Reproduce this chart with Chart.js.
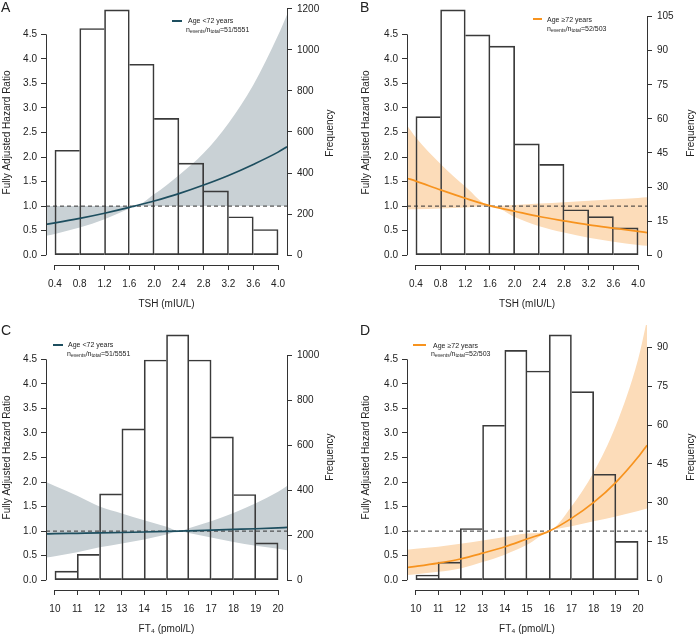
<!DOCTYPE html>
<html>
<head>
<meta charset="utf-8">
<script src="https://cdn.jsdelivr.net/npm/chart.js@4.4.0/dist/chart.umd.min.js"></script>
<style>
    body { margin: 0; background: #fff; overflow: hidden; }
    #wrap { position: relative; width: 696px; height: 635px; overflow: hidden;
            font-family: 'Liberation Sans', Arial, sans-serif; color: #222; }
    canvas { position: absolute; }
    .letter { position: absolute; font-size: 14px; line-height: 14px; }
    .ytitle { position: absolute; font-size: 10px; line-height: 12px; white-space: nowrap;
              transform: translate(-50%, -50%) rotate(-90deg); }
    .leg { position: absolute; font-size: 7px; line-height: 7px; white-space: nowrap; }
    .leg sub { font-size: 5px; line-height: 5px; vertical-align: -1px; }
    .legline { position: absolute; height: 2px; }
</style>
</head>
<body>
<div id="wrap">
    <canvas id="chartA" width="348" height="325" style="left:0;top:-10px"></canvas>
    <canvas id="chartB" width="348" height="325" style="left:348px;top:-10px"></canvas>
    <canvas id="chartC" width="348" height="325" style="left:0;top:315px"></canvas>
    <canvas id="chartD" width="348" height="325" style="left:348px;top:315px"></canvas>

    <div class="letter" style="left:1px;top:0">A</div>
    <div class="letter" style="left:360px;top:0">B</div>
    <div class="letter" style="left:1px;top:323px">C</div>
    <div class="letter" style="left:360px;top:323px">D</div>

    <div class="ytitle" style="left:330px;top:133px">Frequency</div>
    <div class="ytitle" style="left:691px;top:133px">Frequency</div>
    <div class="ytitle" style="left:330px;top:457px">Frequency</div>
    <div class="ytitle" style="left:691px;top:457px">Frequency</div>

    <div class="legline" style="left:172px;top:20px;width:10px;background:#1d4e5f"></div>
    <div class="leg" style="left:188px;top:17px">Age &lt;72 years</div>
    <div class="leg" style="left:186px;top:25.5px">n<sub>events</sub>/n<sub>total</sub>=51/5551</div>

    <div class="legline" style="left:533px;top:18px;width:9px;background:#f7931e"></div>
    <div class="leg" style="left:547px;top:15.5px">Age ≥72 years</div>
    <div class="leg" style="left:547px;top:24.5px">n<sub>events</sub>/n<sub>total</sub>=52/503</div>

    <div class="legline" style="left:53px;top:343.5px;width:10px;background:#1d4e5f"></div>
    <div class="leg" style="left:68px;top:340.5px">Age &lt;72 years</div>
    <div class="leg" style="left:67px;top:349.5px">n<sub>events</sub>/n<sub>total</sub>=51/5551</div>

    <div class="legline" style="left:413px;top:344px;width:13px;background:#f7931e"></div>
    <div class="leg" style="left:433px;top:341.5px">Age ≥72 years</div>
    <div class="leg" style="left:431px;top:349.5px">n<sub>events</sub>/n<sub>total</sub>=52/503</div>
</div>

<script>
// Подписи делений осей
const tshTicks = [0.4, 0.8, 1.2, 1.6, 2.0, 2.4, 2.8, 3.2, 3.6, 4.0];
const ft4Ticks = [10, 11, 12, 13, 14, 15, 16, 17, 18, 19, 20];
const hrTicks = [0, 0.5, 1.0, 1.5, 2.0, 2.5, 3.0, 3.5, 4.0, 4.5];
const freqTicksA = [0, 200, 400, 600, 800, 1000, 1200];
const freqTicksB = [0, 15, 30, 45, 60, 75, 90, 105];
const freqTicksC = [0, 200, 400, 600, 800, 1000];
const freqTicksD = [0, 15, 30, 45, 60, 75, 90];
const refHR = 1;

// Гистограммы (центры интервалов и частоты)
const tshBins = [0.6, 1.0, 1.4, 1.8, 2.2, 2.6, 3.0, 3.4, 3.8];
const ft4Bins = [10.5, 11.5, 12.5, 13.5, 14.5, 15.5, 16.5, 17.5, 18.5, 19.5];
const freqA = [511, 1104, 1195, 930, 666, 448, 313, 187, 125];
const freqB = [61, 108, 97, 92, 49, 40, 20, 17, 12];
const freqC = [40, 115, 384, 673, 979, 1091, 979, 637, 381, 166];
const freqD = [2, 7, 20, 60, 89, 81, 95, 73, 41, 15];

// Кривые отношения рисков с доверительными интервалами
const xA = [0.256, 0.4, 0.8, 1.2, 1.6, 1.68, 2.0, 2.4, 2.8, 3.2, 3.6, 4.0, 4.144];
const hrA = [0.628, 0.658, 0.750, 0.855, 0.974, 1.0, 1.105, 1.255, 1.43, 1.625, 1.85, 2.10, 2.21];
const loA = [0.394, 0.433, 0.562, 0.731, 0.949, 1.0, 1.0, 1.0, 1.0, 1.0, 1.0, 1.0, 1.0];
const hiA = [1.0, 1.0, 1.0, 1.0, 1.0, 1.0, 1.24, 1.63, 2.08, 2.69, 3.47, 4.48, 4.9];

const xB = [0.256, 0.4, 0.8, 1.2, 1.62, 2.0, 2.4, 2.8, 3.2, 3.6, 4.0, 4.144];
const hrB = [1.568, 1.51, 1.33, 1.16, 1.0, 0.896, 0.788, 0.70, 0.618, 0.55, 0.485, 0.46];
const loB = [0.93, 0.935, 0.95, 0.972, 1.0, 0.78, 0.59, 0.46, 0.355, 0.275, 0.21, 0.19];
const hiB = [2.65, 2.40, 1.86, 1.40, 1.0, 1.025, 1.052, 1.08, 1.108, 1.138, 1.166, 1.18];

const xC = [9.6, 10, 11, 12, 13, 14, 15, 15.58, 16, 17, 18, 19, 20, 20.4];
const hrC = [0.944, 0.947, 0.955, 0.963, 0.972, 0.982, 0.993, 1.0, 1.006, 1.02, 1.034, 1.048, 1.066, 1.075];
const loC = [0.46, 0.49, 0.57, 0.67, 0.75, 0.83, 0.93, 1.0, 0.96, 0.87, 0.78, 0.70, 0.64, 0.61];
const hiC = [2.0, 1.92, 1.72, 1.50, 1.36, 1.22, 1.09, 1.0, 1.06, 1.2, 1.37, 1.57, 1.8, 1.92];

const xD = [9.6, 10, 11, 12, 13, 14, 15, 16, 17, 18, 19, 20, 20.4];
const hrD = [0.258, 0.281, 0.347, 0.432, 0.55, 0.68, 0.84, 1.0, 1.259, 1.584, 1.994, 2.509, 2.75];
const loD = [0.105, 0.12, 0.17, 0.24, 0.37, 0.52, 0.72, 1.0, 1.1, 1.2, 1.3, 1.41, 1.46];
const hiD = [0.62, 0.64, 0.68, 0.74, 0.81, 0.88, 0.95, 1.0, 1.5, 2.2, 3.15, 4.5, 5.3];

const FONT = { family: "'Liberation Sans', Arial, sans-serif", size: 10 };
const INK = '#222';

Chart.defaults.font.family = FONT.family;
Chart.defaults.font.size = 10;
Chart.defaults.color = INK;

// Линии осей в стиле R: только от первого до последнего деления
const axisLines = {
    id: 'axisLines',
    afterDraw(chart) {
        const { ctx, chartArea: a, scales } = chart;
        const seg = (x1, y1, x2, y2) => {
            ctx.beginPath();
            ctx.moveTo(x1, y1);
            ctx.lineTo(x2, y2);
            ctx.stroke();
        };
        const ends = (s) => [s.getPixelForValue(s.ticks[0].value), s.getPixelForValue(s.ticks[s.ticks.length - 1].value)];
        ctx.save();
        ctx.strokeStyle = '#333';
        ctx.lineWidth = 1;
        const [x1, x2] = ends(scales.x);
        seg(x1, Math.round(a.bottom) + 0.5, x2, Math.round(a.bottom) + 0.5);
        const [y1, y2] = ends(scales.y);
        seg(Math.round(a.left) + 0.5, y1, Math.round(a.left) + 0.5, y2);
        const [r1, r2] = ends(scales.y2);
        seg(Math.round(a.right) + 0.5, r1, Math.round(a.right) + 0.5, r2);
        ctx.restore();
    }
};

function points(xs, ys) {
    return xs.map((x, i) => ({ x, y: ys[i] }));
}

function setTicks(list) {
    return (s) => { s.ticks = list.map(v => ({ value: v })); };
}

const tickGrid = { drawOnChartArea: false, drawTicks: true, tickLength: 5, color: '#333', lineWidth: 1, offset: false };

// Построение одной панели
function renderPanel(id, p) {
    const span = p.xTicks[p.xTicks.length - 1] - p.xTicks[0];
    const xMin = p.xTicks[0] - 0.04 * span;
    const xMax = p.xTicks[p.xTicks.length - 1] + 0.04 * span;
    const fMax = Math.max(...p.freq);

    // рамки столбцов: общую сторону рисует более высокий столбец
    const barBorder = (c) => {
        const i = c.dataIndex;
        const f = p.freq;
        return {
            top: 1,
            bottom: 1,
            left: (i === 0 || f[i - 1] < f[i]) ? 1 : 0,
            right: (i === f.length - 1 || f[i + 1] <= f[i]) ? 1 : 0,
        };
    };

    new Chart(document.getElementById(id), {
        type: 'line',
        data: {
            datasets: [
                {
                    label: 'upper',
                    data: points(p.x, p.hi),
                    fill: '+1',
                    backgroundColor: p.band,
                    borderColor: 'rgba(0,0,0,0)',
                    borderWidth: 0,
                    pointRadius: 0,
                    cubicInterpolationMode: 'monotone',
                    order: 5,
                },
                {
                    label: 'lower',
                    data: points(p.x, p.lo),
                    fill: false,
                    borderColor: 'rgba(0,0,0,0)',
                    borderWidth: 0,
                    pointRadius: 0,
                    cubicInterpolationMode: 'monotone',
                    order: 5,
                },
                {
                    type: 'bar',
                    label: 'Frequency',
                    data: points(p.bins, p.freq),
                    yAxisID: 'y2',
                    backgroundColor: 'rgba(255,255,255,0)',
                    borderColor: '#3a3a3a',
                    borderWidth: barBorder,
                    borderSkipped: false,
                    barPercentage: 1,
                    categoryPercentage: 1,
                    order: 4,
                },
                {
                    label: 'ref',
                    data: [{ x: xMin, y: refHR }, { x: xMax, y: refHR }],
                    borderColor: '#333',
                    borderWidth: 1,
                    borderDash: [4, 3],
                    pointRadius: 0,
                    fill: false,
                    order: 2,
                },
                {
                    label: 'HR',
                    data: points(p.x, p.hr),
                    borderColor: p.line,
                    borderWidth: 1.7,
                    pointRadius: 0,
                    fill: false,
                    cubicInterpolationMode: 'monotone',
                    order: 1,
                },
            ],
        },
        options: {
            responsive: false,
            animation: false,
            events: [],
            layout: { padding: { top: 10, left: 0, right: 0, bottom: 0 } },
            plugins: { legend: { display: false }, tooltip: { enabled: false } },
            scales: {
                x: {
                    type: 'linear',
                    min: xMin,
                    max: xMax,
                    offset: false,
                    afterBuildTicks: setTicks(p.xTicks),
                    afterFit: (s) => { s.height = 50; s.paddingLeft = 0; s.paddingRight = 0; },
                    grid: tickGrid,
                    border: { display: false },
                    ticks: { padding: 8, autoSkip: false, maxRotation: 0, color: INK, font: FONT, callback: p.xFmt },
                    title: { display: true, text: p.xTitle, color: INK, font: FONT, padding: { top: 0, bottom: 5 } },
                },
                y: {
                    type: 'linear',
                    position: 'left',
                    min: -0.2,
                    max: 5.2,
                    afterBuildTicks: setTicks(hrTicks),
                    afterFit: (s) => { s.width = p.leftW; s.paddingTop = 0; s.paddingBottom = 0; },
                    grid: tickGrid,
                    border: { display: false },
                    ticks: { padding: 4, autoSkip: false, color: INK, font: FONT, callback: v => v.toFixed(1) },
                    title: { display: true, text: 'Fully Adjusted Hazard Ratio', color: INK, font: FONT, padding: { top: p.yTitlePad, bottom: 0 } },
                },
                y2: {
                    type: 'linear',
                    position: 'right',
                    min: -0.04 * fMax,
                    max: 1.04 * fMax,
                    afterBuildTicks: setTicks(p.freqTicks),
                    afterFit: (s) => { s.width = p.rightW; s.paddingTop = 0; s.paddingBottom = 0; },
                    grid: tickGrid,
                    border: { display: false },
                    ticks: { padding: 5, autoSkip: false, color: INK, font: FONT, callback: v => String(v) },
                },
            },
        },
        plugins: [axisLines],
    });
}

const tealLine = '#1d4e5f';
const tealBand = '#c9d1d5';
const orangeLine = '#f7931e';
const orangeBand = '#fcdcb9';

document.addEventListener('DOMContentLoaded', () => {
    renderPanel('chartA', {
        xTicks: tshTicks, xFmt: v => v.toFixed(1), xTitle: 'TSH (mIU/L)',
        bins: tshBins, freq: freqA, freqTicks: freqTicksA,
        x: xA, hr: hrA, lo: loA, hi: hiA,
        line: tealLine, band: tealBand, leftW: 46, rightW: 61, yTitlePad: 1,
    });
    renderPanel('chartB', {
        xTicks: tshTicks, xFmt: v => v.toFixed(1), xTitle: 'TSH (mIU/L)',
        bins: tshBins, freq: freqB, freqTicks: freqTicksB,
        x: xB, hr: hrB, lo: loB, hi: hiB,
        line: orangeLine, band: orangeBand, leftW: 59, rightW: 49, yTitlePad: 12,
    });
    renderPanel('chartC', {
        xTicks: ft4Ticks, xFmt: v => String(v), xTitle: 'FT₄ (pmol/L)',
        bins: ft4Bins, freq: freqC, freqTicks: freqTicksC,
        x: xC, hr: hrC, lo: loC, hi: hiC,
        line: tealLine, band: tealBand, leftW: 46, rightW: 61, yTitlePad: 1,
    });
    renderPanel('chartD', {
        xTicks: ft4Ticks, xFmt: v => String(v), xTitle: 'FT₄ (pmol/L)',
        bins: ft4Bins, freq: freqD, freqTicks: freqTicksD,
        x: xD, hr: hrD, lo: loD, hi: hiD,
        line: orangeLine, band: orangeBand, leftW: 59, rightW: 49, yTitlePad: 12,
    });
});
</script>
</body>
</html>
